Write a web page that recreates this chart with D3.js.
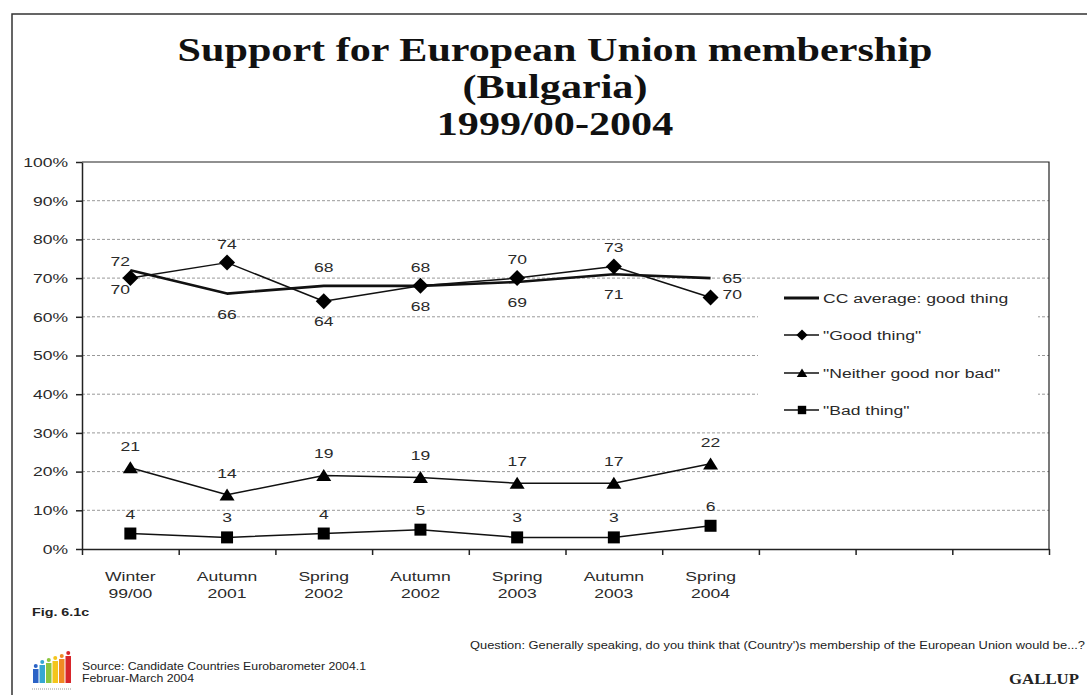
<!DOCTYPE html>
<html>
<head>
<meta charset="utf-8">
<script src="https://cdn.jsdelivr.net/npm/d3@7"></script>
<style>
  body { margin: 0; background: #fff; }
  svg { display: block; }
</style>
</head>
<body>
<div id="chart"></div>
<script>
// Data
const periods = [["Winter", "99/00"], ["Autumn", "2001"], ["Spring", "2002"], ["Autumn", "2002"],
                 ["Spring", "2003"], ["Autumn", "2003"], ["Spring", "2004"]];
const slotCount = 10; // axis has room for 10 periods, only 7 used
const ccAverage = [72, 66, 68, 68, 69, 71, 70];
const goodThing = [70, 74, 64, 68, 70, 73, 65];
const neitherGoodNorBad = [21, 14, 19, 18.5, 17, 17, 22];
const badThing = [4, 3, 4, 5, 3, 3, 6];
// labels as printed on the original chart
const ccLabels = ["72", "66", "68", "68", "69", "71", "65"];
const goodLabels = ["70", "74", "64", "68", "70", "73", "70"];
const neitherLabels = ["21", "14", "19", "19", "17", "17", "22"];
const badLabels = ["4", "3", "4", "5", "3", "3", "6"];
const yTicks = [0, 10, 20, 30, 40, 50, 60, 70, 80, 90, 100];
const legendNames = ["CC average: good thing", "\"Good thing\"", "\"Neither good nor bad\"", "\"Bad thing\""];

const W = 1087, H = 695;
const SX = 1.3; // the source picture is stretched sideways
const FONT = "Arial, 'Liberation Sans', sans-serif";
const margin = { top: 162, right: 38, bottom: 146, left: 82 };
const width = W - margin.left - margin.right;
const height = H - margin.top - margin.bottom;

const svg = d3.select("#chart").append("svg")
    .attr("width", W)
    .attr("height", H);

// stretched text helper
function txt(parent, x, y, str, size, anchor, extra) {
    const t = parent.append("text")
        .attr("transform", `translate(${x},${y}) scale(${SX},1)`)
        .attr("text-anchor", anchor || "middle")
        .attr("font-family", FONT)
        .attr("font-size", size)
        .attr("fill", "#2a2a2a")
        .text(str);
    if (extra) extra(t);
    return t;
}

// page frame
svg.append("path")
    .attr("d", `M12,${H} V14 H${W}`)
    .attr("fill", "none")
    .attr("stroke", "#333")
    .attr("stroke-width", 1.5);

// title
const titleLines = ["Support for European Union membership", "(Bulgaria)", "1999/00-2004"];
titleLines.forEach((s, i) => {
    svg.append("text")
        .attr("transform", `translate(555,${61 + i * 37}) scale(1.24,1)`)
        .attr("text-anchor", "middle")
        .attr("font-family", "'Liberation Serif', 'Times New Roman', serif")
        .attr("font-weight", "bold")
        .attr("font-size", 34)
        .attr("fill", "#111")
        .text(s);
});

const g = svg.append("g").attr("transform", `translate(${margin.left},${margin.top})`);

// scales
const xSlot = d3.scaleLinear().domain([0, slotCount]).range([0, width]);
const x = i => xSlot(i + 0.5);
const y = d3.scaleLinear().domain([0, 100]).range([height, 0]);

// gridlines
g.append("g").selectAll("line")
    .data(yTicks.filter(v => v > 0 && v < 100))
    .join("line")
    .attr("x1", 0).attr("x2", width)
    .attr("y1", d => y(d)).attr("y2", d => y(d))
    .attr("stroke", "#999")
    .attr("stroke-width", 1)
    .attr("stroke-dasharray", "3,2");

// plot border (top + right)
g.append("path")
    .attr("d", `M0,${y(100)} H${width} V${height}`)
    .attr("fill", "none")
    .attr("stroke", "#222")
    .attr("stroke-width", 1.2);

// y axis
const yAxis = g.append("g")
    .call(d3.axisLeft(y).tickValues(yTicks).tickFormat(d => d + "%").tickSize(6).tickSizeOuter(0));
yAxis.select(".domain").attr("stroke", "#222").attr("stroke-width", 1.5);
yAxis.selectAll(".tick line").attr("stroke", "#222").attr("stroke-width", 1.5);
yAxis.selectAll("text")
    .attr("x", -14 / SX)
    .attr("transform", `scale(${SX},1)`)
    .attr("font-family", FONT)
    .attr("font-size", 13.5)
    .attr("fill", "#2a2a2a");

// x axis (ticks at slot boundaries)
const xAxis = g.append("g")
    .attr("transform", `translate(0,${height})`)
    .call(d3.axisBottom(xSlot).tickValues(d3.range(0, slotCount + 1)).tickFormat("").tickSize(6).tickSizeOuter(0));
xAxis.select(".domain").attr("stroke", "#222").attr("stroke-width", 1.5);
xAxis.selectAll(".tick line").attr("stroke", "#222").attr("stroke-width", 1.5);

periods.forEach((p, i) => {
    txt(g, x(i), height + 32, p[0], 13.5);
    txt(g, x(i), height + 49, p[1], 13.5);
});

// legend background (hides gridlines)
const lgX = 758 - margin.left, lgY = 284 - margin.top;
g.append("rect")
    .attr("x", lgX).attr("y", lgY)
    .attr("width", 280).attr("height", 144)
    .attr("fill", "#fff");

// marker shapes
const shapes = {
    diamond: s => `M0,${-s} L${s},0 L0,${s} L${-s},0 Z`,
    triangle: s => `M0,${-s * 0.85} L${s},${s * 0.75} L${-s},${s * 0.75} Z`,
    square: s => `M${-s},${-s} H${s} V${s} H${-s} Z`
};

const line = d3.line().x((d, i) => x(i)).y(d => y(d));

const series = [
    { values: ccAverage, width: 2.6, shape: null },
    { values: goodThing, width: 1.5, shape: "diamond", size: 8 },
    { values: neitherGoodNorBad, width: 1.5, shape: "triangle", size: 7.5 },
    { values: badThing, width: 1.5, shape: "square", size: 6 }
];

series.forEach(s => {
    g.append("path")
        .datum(s.values)
        .attr("d", line)
        .attr("fill", "none")
        .attr("stroke", "#111")
        .attr("stroke-width", s.width)
        .attr("stroke-linejoin", "round");
});
series.filter(s => s.shape).forEach(s => {
    g.append("g").selectAll("path")
        .data(s.values)
        .join("path")
        .attr("transform", (d, i) => `translate(${x(i)},${y(d)})`)
        .attr("d", shapes[s.shape](s.size))
        .attr("fill", "#000");
});

// data labels: good thing / CC average
periods.forEach((p, i) => {
    const last = i === periods.length - 1;
    const first = i === 0;
    const goodUp = goodThing[i] >= ccAverage[i];
    [[goodThing[i], goodLabels[i], goodUp], [ccAverage[i], ccLabels[i], !goodUp]].forEach(([v, lab, up]) => {
        if (last) {
            txt(g, x(i) + 12, y(v) + (up ? 5 : 2), lab, 13.5, "start");
        } else if (first) {
            txt(g, x(i) - 10, y(v) + (up ? -4 : 16), lab, 13.5);
        } else {
            txt(g, x(i), y(v) + (up ? -14 : 25), lab, 13.5);
        }
    });
    txt(g, x(i), y(neitherGoodNorBad[i]) - 17, neitherLabels[i], 13.5);
    txt(g, x(i), y(badThing[i]) - 15, badLabels[i], 13.5);
});

// legend
const legend = svg.append("g");
const legendY = [298, 335, 373, 410];
series.forEach((s, i) => {
    const ly = legendY[i];
    legend.append("line")
        .attr("x1", 784).attr("x2", 819)
        .attr("y1", ly).attr("y2", ly)
        .attr("stroke", "#111")
        .attr("stroke-width", s.shape ? 1.5 : 3);
    if (s.shape) {
        legend.append("path")
            .attr("transform", `translate(802,${ly})`)
            .attr("d", shapes[s.shape](s.size * 0.7))
            .attr("fill", "#000");
    }
    txt(legend, 823, ly + 5, legendNames[i], 13.5, "start");
});

// footer
txt(svg, 32, 616, "Fig. 6.1c", 11, "start", t => t.attr("font-weight", "bold").attr("fill", "#222"));

svg.append("text")
    .attr("x", 470).attr("y", 649)
    .attr("font-family", FONT)
    .attr("font-size", 10.5)
    .attr("fill", "#222")
    .attr("textLength", 615)
    .attr("lengthAdjust", "spacingAndGlyphs")
    .text("Question:  Generally speaking, do you think that (Country')s membership of the European Union would be...?");

svg.append("text")
    .attr("x", 82).attr("y", 670)
    .attr("font-family", FONT)
    .attr("font-size", 10.5)
    .attr("fill", "#222")
    .attr("textLength", 284)
    .attr("lengthAdjust", "spacingAndGlyphs")
    .text("Source: Candidate Countries Eurobarometer 2004.1");
svg.append("text")
    .attr("x", 82).attr("y", 682)
    .attr("font-family", FONT)
    .attr("font-size", 10.5)
    .attr("fill", "#222")
    .attr("textLength", 112)
    .attr("lengthAdjust", "spacingAndGlyphs")
    .text("Februar-March 2004");

svg.append("text")
    .attr("transform", `translate(1079,684) scale(1.2,1)`)
    .attr("text-anchor", "end")
    .attr("font-family", "'Liberation Serif', 'Times New Roman', serif")
    .attr("font-weight", "bold")
    .attr("font-size", 14)
    .attr("fill", "#222")
    .text("GALLUP");

// small eurobarometer logo
const logoColors = ["#2b63c6", "#35a7d3", "#8cc63f", "#f4c51c", "#f08a24", "#d7262b"];
const logoHeights = [14, 18, 20, 22, 24, 27];
const logo = svg.append("g").attr("transform", "translate(33,683)");
logoColors.forEach((c, i) => {
    logo.append("rect")
        .attr("x", i * 6.5).attr("y", -logoHeights[i])
        .attr("width", 5.5).attr("height", logoHeights[i])
        .attr("fill", c);
    logo.append("circle")
        .attr("cx", i * 6.5 + 2.75).attr("cy", -logoHeights[i] - 3)
        .attr("r", 2)
        .attr("fill", c);
});
logo.append("line")
    .attr("x1", -1).attr("x2", 38).attr("y1", 6).attr("y2", 6)
    .attr("stroke", "#999").attr("stroke-width", 1).attr("stroke-dasharray", "1,1");
</script>
</body>
</html>
